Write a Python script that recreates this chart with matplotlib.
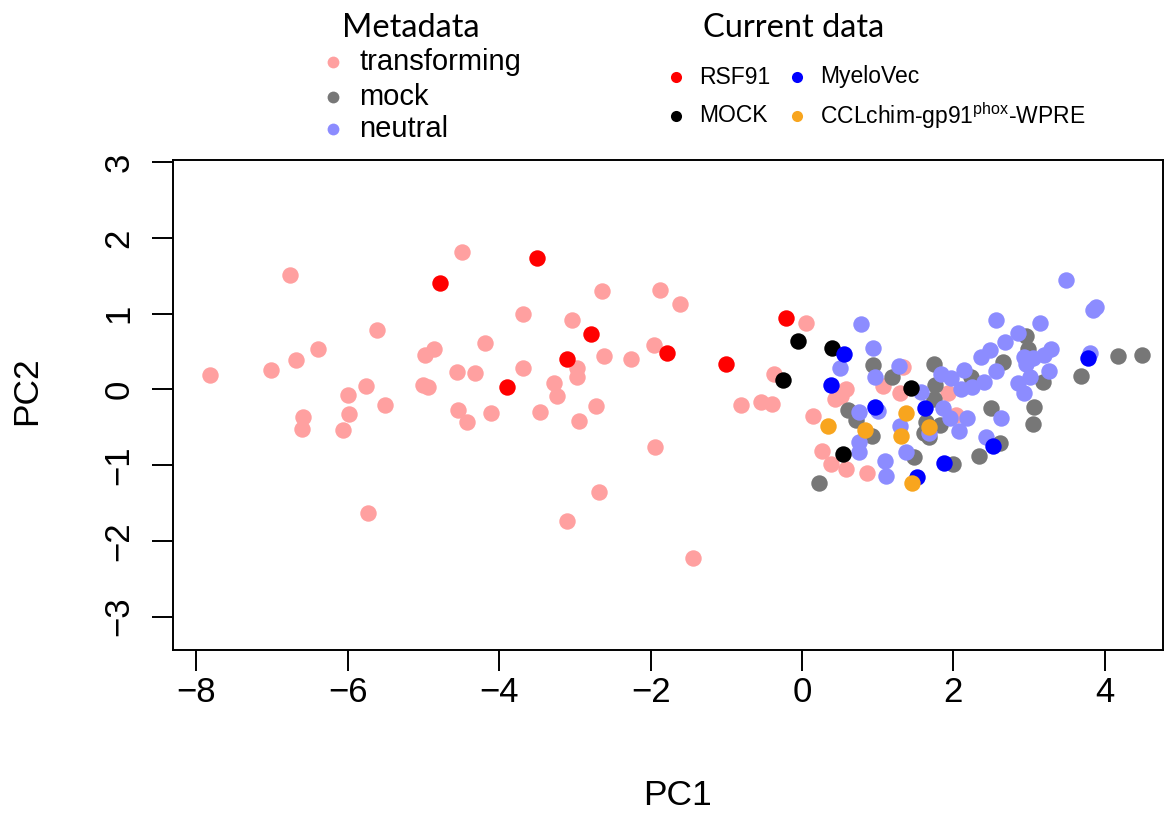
import numpy as np
import matplotlib.pyplot as plt
from matplotlib.lines import Line2D

plt.rcParams['font.family'] = ['Liberation Sans', 'DejaVu Sans']
plt.rcParams['mathtext.fontset'] = 'custom'
plt.rcParams['mathtext.rm'] = 'Liberation Sans'

# PCA scores, metadata samples
transforming_pc1 = [-7.82, -6.77, -7.01, -6.69, -6.40, -6.59, -6.60, -6.00, -5.99, -6.07,
                    -5.76, -5.51, -5.62, -5.74, -4.49, -3.69, -4.19, -4.86, -4.98, -5.01,
                    -4.94, -4.56, -4.32, -3.68, -3.27, -3.24, -4.55, -4.43, -4.11, -3.46,
                    -3.11, -2.64, -1.88, -1.61, -3.04, -1.95, -2.61, -2.26, -2.97, -2.97,
                    -2.94, -2.72, -1.94, -2.68, -1.44, -0.81, -0.54, -0.40, -0.37, 0.05,
                    0.15, 0.27, 0.39, 0.58, 0.86, 0.58, 0.43, 0.52, 1.07, 1.29,
                    1.33, 1.93, 2.03]
transforming_pc2 = [0.19, 1.51, 0.26, 0.39, 0.53, -0.36, -0.52, -0.07, -0.32, -0.53,
                    0.05, -0.21, 0.78, -1.63, 1.81, 0.99, 0.61, 0.53, 0.45, 0.06,
                    0.03, 0.23, 0.22, 0.28, 0.09, -0.08, -0.27, -0.43, -0.31, -0.30,
                    -1.74, 1.30, 1.31, 1.13, 0.92, 0.59, 0.44, 0.40, 0.29, 0.17,
                    -0.41, -0.22, -0.76, -1.36, -2.22, -0.20, -0.16, -0.19, 0.21, 0.88,
                    -0.35, -0.81, -0.99, -1.05, -1.10, 0.01, -0.12, -0.08, 0.04, -0.05,
                    0.30, -0.05, -0.34]

mock_pc1 = [0.94, 1.19, 0.61, 0.72, 0.92, 0.22, 1.48, 1.75, 1.76, 1.75,
            1.64, 1.82, 1.61, 1.68, 1.99, 2.23, 2.34, 2.50, 2.61, 2.66,
            2.96, 2.98, 3.18, 3.07, 3.05, 3.69, 4.17, 4.49]
mock_pc2 = [0.32, 0.17, -0.27, -0.40, -0.62, -1.23, -0.89, 0.33, 0.06, -0.12,
            -0.43, -0.47, -0.58, -0.63, -0.98, 0.17, -0.88, -0.25, -0.71, 0.36,
            0.71, 0.54, 0.10, -0.23, -0.45, 0.18, 0.44, 0.45]

neutral_pc1 = [0.78, 0.94, 0.50, 0.96, 1.28, 1.57, 1.01, 1.30, 0.75, 0.76,
               1.10, 1.11, 1.37, 1.68, 1.84, 1.97, 2.10, 2.14, 2.24, 2.41,
               1.86, 1.95, 2.08, 2.18, 2.43, 2.63, 2.37, 2.48, 2.56, 2.57,
               2.68, 2.86, 2.94, 3.05, 3.14, 3.29, 3.20, 3.26, 3.01, 2.86,
               2.94, 3.49, 3.89, 3.84, 3.81, 2.96, 0.75]
neutral_pc2 = [0.87, 0.55, 0.28, 0.17, 0.31, -0.03, -0.29, -0.48, -0.69, -0.82,
               -0.95, -1.14, -0.83, -0.58, 0.20, 0.15, 0.01, 0.26, 0.03, 0.10,
               -0.24, -0.38, -0.55, -0.38, -0.63, -0.38, 0.43, 0.52, 0.25, 0.92,
               0.63, 0.75, 0.43, 0.41, 0.88, 0.54, 0.45, 0.25, 0.17, 0.08,
               -0.05, 1.45, 1.09, 1.05, 0.48, 0.34, -0.30]

# PCA scores, current samples
rsf91_pc1 = [-4.78, -3.50, -2.79, -3.90, -3.10, -1.78, -1.01, -0.21]
rsf91_pc2 = [1.41, 1.74, 0.73, 0.03, 0.40, 0.48, 0.34, 0.95]

mockc_pc1 = [-0.05, 0.40, -0.25, 1.44, 0.54]
mockc_pc2 = [0.64, 0.55, 0.12, 0.02, -0.85]

myelovec_pc1 = [0.55, 0.39, 0.96, 1.63, 1.52, 1.87, 2.53, 3.78]
myelovec_pc2 = [0.47, 0.06, -0.23, -0.24, -1.15, -0.97, -0.75, 0.42]

cclchim_pc1 = [0.34, 0.83, 1.38, 1.31, 1.68, 1.46]
cclchim_pc2 = [-0.48, -0.54, -0.31, -0.61, -0.49, -1.24]

meta_labels = ['transforming', 'mock', 'neutral']
meta_colors = ['#FFA0A0', '#777777', '#8C8CFF']
cur_labels = ['RSF91', 'MyeloVec', 'MOCK', 'CCLchim-gp91$^{\\mathrm{phox}}$-WPRE']
cur_colors = ['#FF0000', '#0000FF', '#000000', '#F8A51E']

W, H = 1166, 814
fig = plt.figure(figsize=(W / 100, H / 100), dpi=100)
ax = fig.add_axes([173 / W, 1 - 650 / H, 990 / W, 490 / H])

s = 140
ax.scatter(transforming_pc1, transforming_pc2, s=s, c=meta_colors[0], linewidths=0)
ax.scatter(mock_pc1, mock_pc2, s=s, c=meta_colors[1], linewidths=0)
ax.scatter(neutral_pc1, neutral_pc2, s=s, c=meta_colors[2], linewidths=0)
ax.scatter(rsf91_pc1, rsf91_pc2, s=s, c=cur_colors[0], linewidths=0)
ax.scatter(mockc_pc1, mockc_pc2, s=s, c=cur_colors[2], linewidths=0)
ax.scatter(myelovec_pc1, myelovec_pc2, s=s, c=cur_colors[1], linewidths=0)
ax.scatter(cclchim_pc1, cclchim_pc2, s=s, c=cur_colors[3], linewidths=0)

ax.set_xlim(-8.31, 4.77)
ax.set_ylim(-3.44, 3.03)
ax.set_xticks(np.arange(-8, 5, 2))
ax.set_yticks(np.arange(-3, 4, 1))
for sp in ax.spines.values():
    sp.set_linewidth(1.4)
ax.tick_params(length=15, width=1.4, labelsize=25)
ax.tick_params(axis='x', pad=4)
ax.tick_params(axis='y', pad=12)
for lab in ax.get_yticklabels():
    lab.set_rotation(90)
    lab.set_va('center')

ax.set_xlabel('PC1', fontsize=25.5)
ax.set_ylabel('PC2', fontsize=25.5)
ax.xaxis.label.set_va('center')
ax.yaxis.label.set_va('center')
ax.xaxis.set_label_coords(0.51, -0.296)
ax.yaxis.set_label_coords(-0.1475, 0.53)


def fpos(x, y):
    return x / W, 1 - y / H


# legend: metadata groups
fig.text(*fpos(342, 28), 'Metadata', family='Lato', fontsize=23.5, ha='left', va='center')
for i, (lab, col) in enumerate(zip(meta_labels, meta_colors)):
    yy = [62, 97, 129][i]
    fig.add_artist(Line2D([333 / W], [1 - yy / H], marker='o', ms=8.5, mfc=col, mec='none',
                          ls='none', transform=fig.transFigure))
    fig.text(*fpos(359, yy), lab, fontsize=21, ha='left', va='center')

# legend: current samples, two columns
fig.text(*fpos(703, 28), 'Current data', family='Lato', fontsize=23.5, ha='left', va='center')
for i, (lab, col) in enumerate(zip(cur_labels, cur_colors)):
    xx = [676, 797][i % 2]
    yy = [77, 116][i // 2]
    fig.add_artist(Line2D([xx / W], [1 - yy / H], marker='o', ms=8, mfc=col, mec='none',
                          ls='none', transform=fig.transFigure))
    fig.text(*fpos(xx + 23, yy), lab, fontsize=16.5, ha='left', va='center')

fig.savefig('out.png', dpi=100)
